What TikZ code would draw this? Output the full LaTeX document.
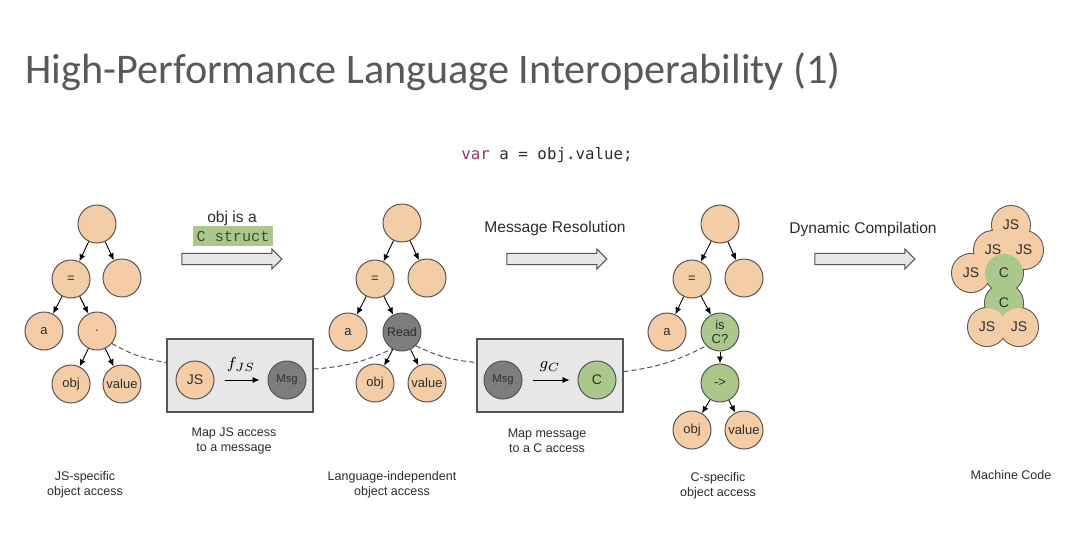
\documentclass[tikz,border=0pt]{standalone}
\usepackage{fontspec}
\setmainfont{Liberation Sans}
\newfontfamily\titlefont{Carlito}
\newfontfamily\codefont{DejaVu Sans Mono}
\newfontfamily\structfont{Liberation Mono}
\usetikzlibrary{arrows.meta,shapes.arrows}

\definecolor{peach}{RGB}{244,205,166}
\definecolor{leaf}{RGB}{170,200,140}
\definecolor{msggray}{RGB}{125,125,125}
\definecolor{boxfill}{RGB}{231,231,231}
\definecolor{lineg}{RGB}{85,85,85}
\definecolor{textg}{RGB}{45,45,45}
\definecolor{titleg}{RGB}{89,89,89}
\definecolor{varpurple}{RGB}{150,50,110}
\definecolor{structtext}{RGB}{60,80,50}

\begin{document}
\begin{tikzpicture}[x=0.5pt, y=-0.5pt,
    roundnode/.style={circle, draw=lineg, fill=peach, line width=0.5pt, minimum size=19pt, inner sep=0pt, text=textg, font=\fontsize{6.5}{7}\selectfont},
    greennode/.style={roundnode, fill=leaf},
    darknode/.style={roundnode, fill=msggray, font=\fontsize{5.6}{6}\selectfont},
    blobnode/.style={circle, minimum size=19pt, inner sep=0pt, text=textg, font=\fontsize{7}{8}\selectfont},
    tarrow/.style={-{Latex[length=3.5pt,width=3pt]}, line width=0.45pt, black},
    mapbox/.style={draw=lineg, fill=boxfill, line width=0.6pt, minimum width=73pt, minimum height=36.5pt, inner sep=0pt},
    fatarrow/.style={single arrow, draw=lineg, fill=boxfill, line width=0.5pt, minimum height=50pt, minimum width=9.5pt, single arrow head extend=2.2pt, inner xsep=0pt, inner ysep=2.6pt},
    caption/.style={align=center, text=textg, font=\fontsize{6.25}{7.5}\selectfont},
    steplabel/.style={text=textg, font=\fontsize{7.8}{9}\selectfont},
    link/.style={dash pattern=on 2.5pt off 1.5pt, lineg, line width=0.5pt}
    ]
    \fill [white] (0,0) rectangle (1080,541);
    \useasboundingbox (0,0) rectangle (1080,541);

    \node [anchor=base west, inner sep=0pt, text=titleg, font=\titlefont\fontsize{21.1}{25}\selectfont] (title) at (25,83) {High-Performance Language Interoperability (1)};
    \node [font=\codefont\fontsize{7.9}{9}\selectfont, text=textg] (code) at (547,155) {\textcolor{varpurple}{var} a = obj.value;};

    % JS tree
    \node [roundnode] (a1) at (97,224) {};
    \node [roundnode] (a2) at (71,279) {=};
    \node [roundnode] (a3) at (122,278) {};
    \node [roundnode] (a4) at (44,331) {a};
    \node [roundnode] (a5) at (97,331) {.};
    \node [roundnode] (a6) at (71,384) {obj};
    \node [roundnode] (a7) at (122,384) {value};
    \draw [tarrow] (a1) edge (a2);
    \draw [tarrow] (a1) edge (a3);
    \draw [tarrow] (a2) edge (a4);
    \draw [tarrow] (a2) edge (a5);
    \draw [tarrow] (a5) edge (a6);
    \draw [tarrow] (a5) edge (a7);

    % language-independent tree
    \node [roundnode] (b1) at (402,223) {};
    \node [roundnode] (b2) at (375,279) {=};
    \node [roundnode] (b3) at (427,278) {};
    \node [roundnode] (b4) at (348,332) {a};
    \node [darknode,font=\fontsize{6.2}{7}\selectfont] (b5) at (402,332) {Read};
    \node [roundnode] (b6) at (375,383) {obj};
    \node [roundnode] (b7) at (427,383) {value};
    \draw [tarrow] (b1) edge (b2);
    \draw [tarrow] (b1) edge (b3);
    \draw [tarrow] (b2) edge (b4);
    \draw [tarrow] (b2) edge (b5);
    \draw [tarrow] (b5) edge (b6);
    \draw [tarrow] (b5) edge (b7);

    % C tree
    \node [roundnode] (c1) at (720,224) {};
    \node [roundnode] (c2) at (692,279) {=};
    \node [roundnode] (c3) at (744,278) {};
    \node [roundnode] (c4) at (667,332) {a};
    \node [greennode,align=center,font=\fontsize{6.5}{7}\selectfont] (c5) at (720,332) {is\\C?};
    \node [greennode] (c6) at (720,383) {->};
    \node [roundnode] (c7) at (692,430) {obj};
    \node [roundnode] (c8) at (744,430) {value};
    \draw [tarrow] (c1) edge (c2);
    \draw [tarrow] (c1) edge (c3);
    \draw [tarrow] (c2) edge (c4);
    \draw [tarrow] (c2) edge (c5);
    \draw [tarrow] (c5) edge (c6);
    \draw [tarrow] (c6) edge (c7);
    \draw [tarrow] (c6) edge (c8);

    % mapping boxes
    \node [mapbox] (m1) at (240,375.5) {};
    \node [roundnode,font=\fontsize{7}{8}\selectfont] (js1) at (195,380) {JS};
    \node [darknode] (msg1) at (287,380) {Msg};
    \draw [tarrow, shorten <=5pt, shorten >=4pt] (js1) -- node [above=0.5pt, font=\fontsize{8}{9}\selectfont] {$f_{JS}$} (msg1);

    \node [mapbox] (m2) at (550,375.5) {};
    \node [darknode] (msg2) at (503,380) {Msg};
    \node [greennode,font=\fontsize{7}{8}\selectfont] (cc) at (597,380) {C};
    \draw [tarrow, shorten <=5pt, shorten >=4pt] (msg2) -- node [above=0.5pt, font=\fontsize{8}{9}\selectfont] {$g_{C}$} (cc);

    \draw [link] (a5.-40) to [bend right=10] (m1.170);
    \draw [link] (m1.5) to [bend right=10] (b5.-120);
    \draw [link] (b5.-45) to [bend right=10] (m2.170);
    \draw [link] (m2.3) to [bend right=10] (c5.-135);

    % step arrows
    \node [steplabel] (s1) at (232,218) {obj is a};
    \node [fill=leaf, text=structtext, minimum width=40pt, minimum height=10pt, inner sep=0pt, font=\structfont\fontsize{7.6}{8}\selectfont] (s1c) at (233,236) {C struct};
    \node [fatarrow] (f1) at (229,259) {};
    \node [steplabel] (s2) at (555,228) {Message Resolution};
    \node [fatarrow] (f2) at (554,259) {};
    \node [steplabel] (s3) at (863,229) {Dynamic Compilation};
    \node [fatarrow] (f3) at (862,259) {};

    % machine code blob
    \foreach \p in {(1011,225),(993,250),(1024,250),(971,273),(1004,273),(1004,303),(987,327),(1019,327)}
        \draw [lineg, line width=1pt] \p circle (9.5pt);
    \node [blobnode, fill=peach] (k1) at (1011,225) {JS};
    \node [blobnode, fill=peach] (k2) at (993,250) {JS};
    \node [blobnode, fill=peach] (k3) at (1024,250) {JS};
    \node [blobnode, fill=peach] (k4) at (971,273) {JS};
    \node [blobnode, fill=leaf] (k5) at (1004,273) {C};
    \node [blobnode, fill=leaf] (k6) at (1004,303) {C};
    \node [blobnode, fill=peach] (k7) at (987,327) {JS};
    \node [blobnode, fill=peach] (k8) at (1019,327) {JS};

    % captions
    \node [caption] (l1) at (85,485) {JS-specific\\object access};
    \node [caption] (l2) at (234,441) {Map JS access\\to a message};
    \node [caption] (l3) at (392,485) {Language-independent\\object access};
    \node [caption] (l4) at (547,441) {Map message\\to a C access};
    \node [caption] (l5) at (718,486) {C-specific\\object access};
    \node [caption] (l6) at (1011,475) {Machine Code};
\end{tikzpicture}
\end{document}
